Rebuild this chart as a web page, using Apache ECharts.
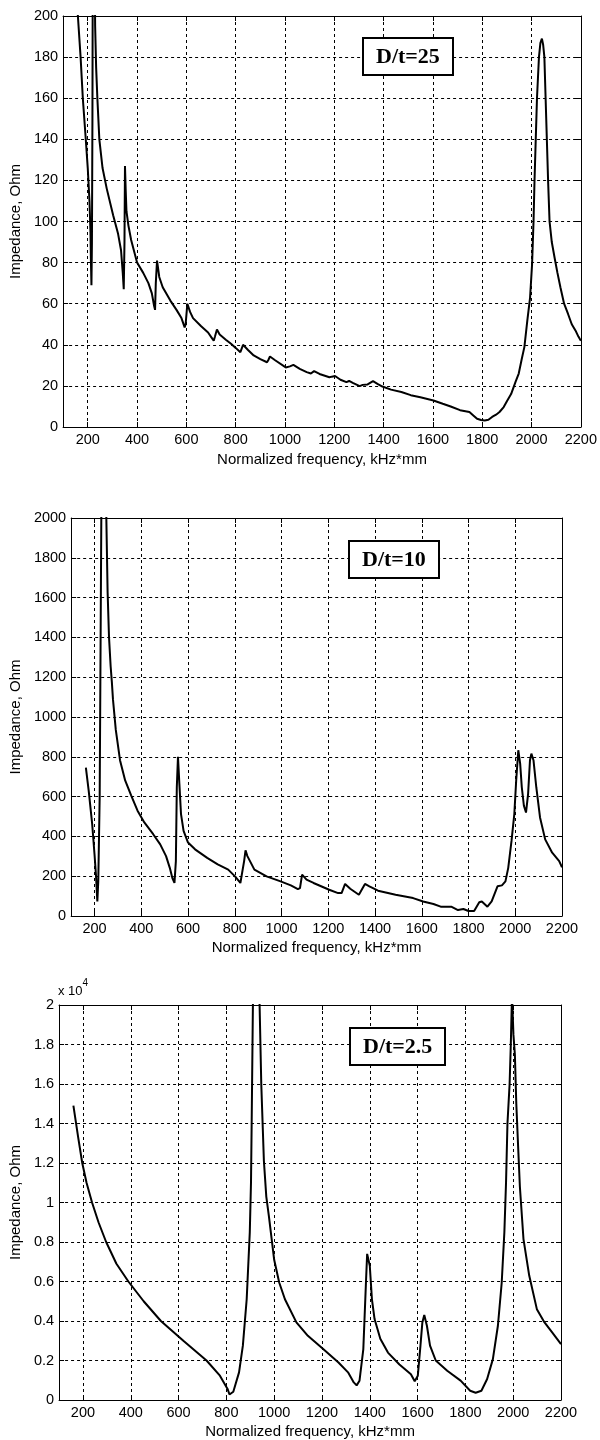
<!DOCTYPE html>
<html>
<head>
<meta charset="utf-8">
<script src="https://cdn.jsdelivr.net/npm/echarts@6/dist/echarts.min.js"></script>
<style>
html,body{margin:0;padding:0;background:#fff;}
#chart{width:600px;height:1440px;}
</style>
</head>
<body>
<div id="chart"></div>
<script>
// ---- tick labels ----
var xTicks = [200, 400, 600, 800, 1000, 1200, 1400, 1600, 1800, 2000, 2200];

// ---- D/t = 25 ----
var freq25 = [150,160,171,180,192,200,207,211,213,215,217,219,221,224,227,230,234,239,247,260,277,303,323,335,342,346,349,351,354,357,365,376,400,425,446,460,469,473,476,481,490,504,535,560,580,593,597,604,615,627,660,688,705,711,716,724,735,760,781,800,819,824,830,850,873,900,927,932,939,960,1003,1020,1034,1060,1088,1105,1118,1140,1180,1190,1203,1225,1249,1260,1275,1303,1315,1335,1357,1375,1395,1430,1472,1510,1549,1602,1640,1672,1710,1748,1765,1779,1795,1810,1825,1840,1856,1870,1887,1900,1917,1935,1948,1960,1971,1983,1994,2002,2008,2012,2017,2022,2030,2036,2042,2047,2052,2057,2062,2067,2073,2082,2094,2105,2117,2132,2148,2163,2178,2190,2200];
var imp25 = [222,200,180,160,140,126,110,95,80,69,90,150,260,300,240,195,175,160,140,126,116,103,94,86,75,67,90,127,115,105,98,91,80,75,70,65,59,57,70,81,73,68,61.5,57,53,48.5,50,60,56,53,49,46,43,42,44,47.4,45,42.5,40.5,38.5,36.4,37,40,37.5,34.8,33,31.5,32.5,34.3,32.5,29,29.5,30.2,28.3,26.7,26,27.2,25.8,24.2,24.5,24.8,23,21.8,22.4,21.5,19.9,20.5,20.7,22.3,21,19.7,18.2,17,15.5,14.5,12.9,11.3,10,8.2,7.3,5.5,4,3.4,3.2,3.5,4.9,6,7.3,9.7,12.5,16,22,26,33,39,52,63,79,100,120,140,160,180,187,189,186,180,160,140,120,100,90,82,75,68,60,55,50,47,44,42];

// ---- D/t = 10 ----
var freq10 = [163,175,190,200,206,212,216,222,225,229,235,242,249,256,262,269,274,279,291,309,331,357,384,413,451,481,506,522,533,542,548,552,557,563,570,581,600,630,682,727,772,801,824,831,840,846,854,884,936,996,1040,1070,1079,1088,1107,1137,1204,1242,1257,1272,1294,1331,1339,1357,1376,1413,1488,1563,1606,1650,1681,1726,1755,1778,1800,1824,1846,1857,1881,1899,1924,1943,1958,1970,1984,1996,2004,2013,2021,2028,2037,2046,2055,2063,2069,2078,2090,2106,2128,2158,2188,2200];
var imp10 = [745,630,462,309,208,73,174,597,1190,2000,2500,2600,2100,1627,1400,1254,1178,1087,935,783,681,605,529,470,411,360,301,242,191,166,276,647,800,664,512,428,369,335,292,259,233,199,166,161,276,330,301,233,199,174,154,135,140,208,183,166,132,115,115,161,137,107,115,161,149,127,107,90,73,60,47,47,30,35,25,25,69,73,47,73,149,154,174,242,377,512,681,833,766,647,554,520,614,783,816,783,647,495,385,318,276,245];

// ---- D/t = 2.5 ----
var freq2_5 = [160,180,197,215,238,265,297,340,390,454,526,620,717,773,805,813,829,853,869,885,898,903,906,911,925,939,946,957,967,978,989,1000,1021,1045,1093,1141,1205,1269,1309,1333,1345,1357,1373,1384,1389,1400,1409,1420,1444,1476,1524,1572,1588,1601,1612,1620,1628,1639,1652,1676,1724,1780,1820,1843,1867,1891,1915,1936,1952,1963,1970,1976,1985,1990,1995,2001,2007,2013,2020,2028,2043,2067,2099,2131,2163,2200];
var imp2_5 = [14900,13300,12000,11000,10000,9000,8000,6900,6000,5000,4000,3000,2000,1230,560,280,420,1400,2750,5100,8500,11000,14200,20000,26000,20000,16000,12100,10300,9300,8200,7100,5950,5100,3930,3250,2580,1900,1400,890,740,980,2580,5950,7400,6800,5100,4100,3100,2400,1800,1300,950,1230,2750,3930,4300,3760,2750,2000,1480,980,470,370,470,1060,2070,3760,5950,8480,11000,14000,16000,18000,20500,18500,17500,15000,13000,10800,8150,6300,4600,3930,3420,2830];

function pairs(xs, ys) { return xs.map(function (x, i) { return [x, ys[i]]; }); }

var tickFont = "'Liberation Sans',Arial,sans-serif";
var gridDefs = [
  {left: 61, top: 16, width: 523, height: 411},
  {left: 58, top: 518, width: 504, height: 398},
  {left: 58, top: 1005, width: 503, height: 396}
];
var yDefs = [
  {max: 200, interval: 20, fmt: function (v) { return String(v); }, nameGap: 36},
  {max: 2000, interval: 200, fmt: function (v) { return String(v); }, nameGap: 37},
  {max: 20000, interval: 2000, fmt: function (v) { return String(+(v / 10000).toFixed(1)); }, nameGap: 33}
];
var xNameGaps = [25, 24, 24];
var boxes = [
  {text: 'D/t=25', left: 363, top: 38},
  {text: 'D/t=10', left: 349, top: 541},
  {text: 'D/t=2.5', left: 350, top: 1028}
];
var seriesData = [pairs(freq25, imp25), pairs(freq10, imp10), pairs(freq2_5, imp2_5)];

var grids = [], xAxes = [], yAxes = [], series = [], titles = [];
gridDefs.forEach(function (g, i) {
  grids.push({left: g.left, top: g.top, width: g.width, height: g.height, show: false, containLabel: false});
  var dashed = {show: true, lineStyle: {color: '#000', width: 1, type: [3, 3]}};
  xAxes.push({
    type: 'value', gridIndex: i, position: 'bottom', min: 100, max: 2200,
    name: 'Normalized frequency, kHz*mm', nameLocation: 'middle', nameGap: xNameGaps[i],
    nameTextStyle: {fontFamily: tickFont, fontSize: 15, color: '#000'},
    axisLine: {show: true, onZero: false, lineStyle: {color: '#000', width: 1}},
    axisTick: {show: true, inside: true, length: 5, customValues: xTicks, lineStyle: {color: '#000'}},
    axisLabel: {show: true, customValues: xTicks, margin: 5, fontFamily: tickFont, fontSize: 14.5, color: '#000',
      formatter: function (v) { return String(v); }},
    splitLine: dashed
  });
  xAxes.push({
    type: 'value', gridIndex: i, position: 'top', min: 100, max: 2200,
    axisLine: {show: true, onZero: false, lineStyle: {color: '#000', width: 1}},
    axisTick: {show: true, inside: true, length: 5, customValues: xTicks, lineStyle: {color: '#000'}},
    axisLabel: {show: false, customValues: xTicks},
    splitLine: {show: false}
  });
  var yd = yDefs[i];
  yAxes.push({
    type: 'value', gridIndex: i, position: 'left', min: 0, max: yd.max, interval: yd.interval,
    name: 'Impedance, Ohm', nameLocation: 'middle', nameRotate: 90, nameGap: yd.nameGap,
    nameTextStyle: {fontFamily: tickFont, fontSize: 15, color: '#000'},
    axisLine: {show: true, onZero: false, lineStyle: {color: '#000', width: 1}},
    axisTick: {show: true, inside: true, length: 5, lineStyle: {color: '#000'}},
    axisLabel: {show: true, margin: 5, fontFamily: tickFont, fontSize: 14.5, color: '#000', formatter: yd.fmt},
    splitLine: dashed
  });
  yAxes.push({
    type: 'value', gridIndex: i, position: 'right', min: 0, max: yd.max, interval: yd.interval,
    axisLine: {show: true, onZero: false, lineStyle: {color: '#000', width: 1}},
    axisTick: {show: true, inside: true, length: 5, lineStyle: {color: '#000'}},
    axisLabel: {show: false},
    splitLine: {show: false}
  });
  series.push({
    type: 'line', xAxisIndex: 2 * i, yAxisIndex: 2 * i, data: seriesData[i],
    showSymbol: false, symbol: 'none', clip: true, smooth: false, animation: false,
    lineStyle: {color: '#000', width: 2}, z: 5
  });
  titles.push({
    text: boxes[i].text, left: boxes[i].left, top: boxes[i].top,
    borderColor: '#000', borderWidth: 2, backgroundColor: '#fff',
    padding: [8, 13, 7, 13], z: 10,
    textStyle: {fontFamily: "'Liberation Serif','Times New Roman',serif", fontWeight: 'bold', fontSize: 22, color: '#000'}
  });
});
var chart = echarts.init(document.getElementById('chart'), null, {renderer: 'canvas'});
chart.setOption({
  backgroundColor: '#fff',
  animation: false,
  title: titles,
  grid: grids,
  xAxis: xAxes,
  yAxis: yAxes,
  series: series,
  graphic: [{
    type: 'text', left: 58, top: 978, z: 20,
    style: {
      text: '{a|x 10}{b|4}',
      rich: {
        a: {fontFamily: tickFont, fontSize: 13, fill: '#000', lineHeight: 20, verticalAlign: 'bottom'},
        b: {fontFamily: tickFont, fontSize: 10, fill: '#000', lineHeight: 20, verticalAlign: 'top'}
      }
    }
  }]
});
</script>
</body>
</html>
